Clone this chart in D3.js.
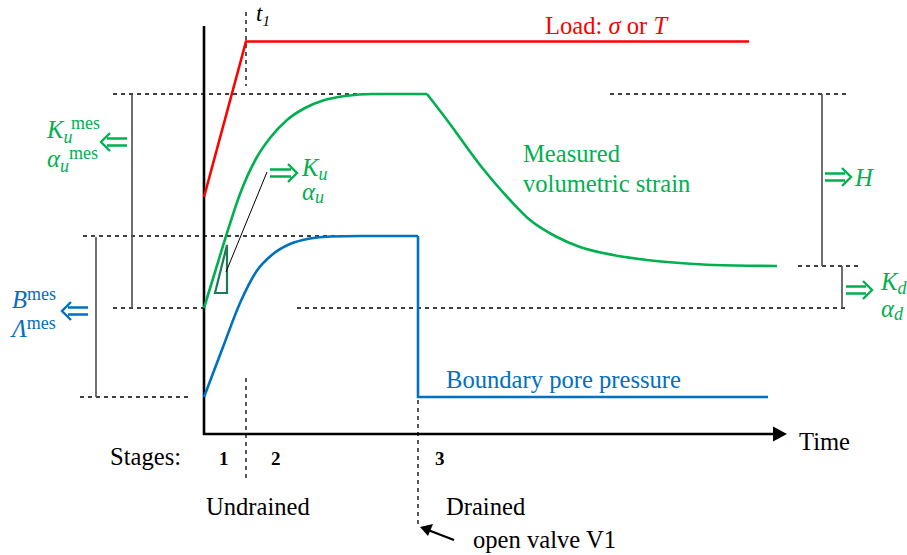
<!DOCTYPE html>
<html><head><meta charset="utf-8">
<script src="https://cdn.jsdelivr.net/npm/d3@7"></script>
<style>
html,body{margin:0;padding:0;background:#fff;}
svg{display:block;}
text{font-family:"Liberation Serif",serif;}
</style></head>
<body>
<svg id="c" width="907" height="555"></svg>
<script>
// ---- data (time units, value units) ----
const loadT = [0, 4.2, 54.5];
const loadV = [23.7, 39.25, 39.25];

const strainRiseT = [0, 1.1, 2.27, 3.6, 5.27, 6.6, 8.3, 10.1, 11.9, 14.1, 16.9, 22.3];
const strainRiseV = [12.6, 16.2, 20.0, 24.0, 27.65, 29.6, 31.4, 32.6, 33.35, 33.8, 34.0, 34.0];
const strainDecayT = [22.3, 24.3, 27.6, 30.6, 32.6, 35.1, 37.6, 40.9, 44.3, 47.6, 50.9, 57.3];
const strainDecayV = [34.0, 31.4, 26.9, 23.4, 21.4, 19.8, 18.7, 17.9, 17.4, 17.1, 16.9, 16.8];

const poreRiseT = [0, 1.9, 3.6, 5.27, 6.9, 8.6, 10.6, 12.6, 15.6, 21.4];
const poreRiseV = [3.7, 8.7, 13.1, 16.3, 18.0, 19.0, 19.55, 19.75, 19.8, 19.8];
const poreDropT = [21.4, 21.4, 56.4];
const poreDropV = [19.8, 3.7, 3.7];

const t1 = 4.2;          // end of loading ramp
const tValve = 21.4;     // valve V1 opened
const stageLabels = ["1", "2", "3"];
const stageT = [1.5, 6.7, 23.1];

// ---- scales ----
const svg = d3.select("#c");
const x = d3.scaleLinear().domain([0, 57]).range([204, 774]);
const y = d3.scaleLinear().domain([0, 40.8]).range([434, 26]);

const FONT = "'Liberation Serif', serif";
const RED = "#ff0000", GREEN = "#00b050", BLUE = "#0070c0", DG = "#1e7a5a";
const zip = (a, b) => a.map((d, i) => [d, b[i]]);
const lineM = d3.line().x(d => x(d[0])).y(d => y(d[1])).curve(d3.curveMonotoneX);
const lineL = d3.line().x(d => x(d[0])).y(d => y(d[1]));

// dashed reference levels
const vGreenTop = strainRiseV[strainRiseV.length - 1];
const vGreenStart = strainRiseV[0];
const vGreenEnd = strainDecayV[strainDecayV.length - 1];
const vBlueTop = poreRiseV[poreRiseV.length - 1];
const vBlueStart = poreRiseV[0];

const dash = (x1, y1, x2, y2) => svg.append("line").attr("x1", x1).attr("y1", y1).attr("x2", x2).attr("y2", y2)
  .attr("stroke", "#000").attr("stroke-width", 1.3).attr("stroke-dasharray", "4,4");
const solid = (x1, y1, x2, y2, c = "#555", w = 1.7) => svg.append("line").attr("x1", x1).attr("y1", y1).attr("x2", x2).attr("y2", y2)
  .attr("stroke", c).attr("stroke-width", w);

dash(113, y(vGreenTop), x(16.9), y(vGreenTop));
dash(610, y(vGreenTop), 848, y(vGreenTop));
dash(83, y(vBlueTop), x(15.3), y(vBlueTop));
dash(113, y(vGreenStart), 204, y(vGreenStart));
dash(297, y(vGreenStart), 848, y(vGreenStart));
dash(80, y(vBlueStart), 189, y(vBlueStart));
dash(798, y(vGreenEnd), 862, y(vGreenEnd));
dash(x(t1), 12, x(t1), 86);
dash(x(t1), 378, x(t1), 481);
dash(x(tValve), y(vBlueStart) + 3, x(tValve), 526);

// measurement bars
solid(132, y(vGreenTop) + 1, 132, y(vGreenStart));
solid(96, y(vBlueTop) + 1, 96, y(vBlueStart));
solid(822, y(vGreenTop), 822, y(vGreenEnd));
solid(842, y(vGreenEnd), 842, y(vGreenStart));

// axes
svg.append("path").attr("d", lineL([[0, 40.8], [0, 0], [56.9, 0]]))
  .attr("fill", "none").attr("stroke", "#000").attr("stroke-width", 2.6);
svg.append("path").attr("d", `M${x(56.9)},${y(0) - 7.5}L787,${y(0)}L${x(56.9)},${y(0) + 7.5}Z`).attr("fill", "#000");

// curves
svg.append("path").attr("d", lineL(zip(loadT, loadV))).attr("fill", "none").attr("stroke", RED).attr("stroke-width", 2.6);
svg.append("path").attr("d", lineM(zip(strainRiseT, strainRiseV))).attr("fill", "none").attr("stroke", GREEN).attr("stroke-width", 2.6);
svg.append("path").attr("d", lineM(zip(strainDecayT, strainDecayV))).attr("fill", "none").attr("stroke", GREEN).attr("stroke-width", 2.6);
svg.append("path").attr("d", lineM(zip(poreRiseT, poreRiseV))).attr("fill", "none").attr("stroke", BLUE).attr("stroke-width", 2.6);
svg.append("path").attr("d", lineL(zip(poreDropT, poreDropV))).attr("fill", "none").attr("stroke", BLUE).attr("stroke-width", 2.6);

// slope triangle + leader
svg.append("path").attr("d", "M215,293L227,293L227,245Z").attr("fill", "none").attr("stroke", DG).attr("stroke-width", 2.2);
solid(267, 172, 226, 272, "#000", 1);

// double arrows
function dArrow(x0, x1, yc, c, dir) {
  const g = svg.append("g").attr("stroke", c).attr("stroke-width", 2.4).attr("fill", "none");
  if (dir > 0) {
    g.append("path").attr("d", `M${x0},${yc - 3.5}L${x1 - 6},${yc - 3.5}M${x0},${yc + 3.5}L${x1 - 6},${yc + 3.5}M${x1 - 9},${yc - 9}L${x1},${yc}L${x1 - 9},${yc + 9}`);
  } else {
    g.append("path").attr("d", `M${x1},${yc - 3.5}L${x0 + 6},${yc - 3.5}M${x1},${yc + 3.5}L${x0 + 6},${yc + 3.5}M${x0 + 9},${yc - 9}L${x0},${yc}L${x0 + 9},${yc + 9}`);
  }
}
dArrow(101, 127, 142, GREEN, -1);
dArrow(62, 88, 311, BLUE, -1);
dArrow(270, 297, 173, GREEN, 1);
dArrow(825, 851, 177, GREEN, 1);
dArrow(846, 872, 290, GREEN, 1);

// valve arrow
svg.append("line").attr("x1", 454).attr("y1", 540).attr("x2", 428).attr("y2", 530).attr("stroke", "#000").attr("stroke-width", 2.4);
svg.append("path").attr("d", "M420,527L433,524L428,536Z").attr("fill", "#000");

// text helper
function txt(xp, yp, parts, color, size = 24.6) {
  const t = svg.append("text").attr("x", xp).attr("y", yp).attr("fill", color)
    .attr("font-size", size).attr("font-family", FONT);
  parts.forEach(p => {
    const s = t.append("tspan").text(p.t);
    if (p.i) s.attr("font-style", "italic");
    if (p.b) s.attr("font-weight", "bold");
    if (p.s) s.attr("font-size", p.s);
    if (p.dy !== undefined) s.attr("dy", p.dy);
    if (p.x !== undefined) s.attr("x", p.x);
  });
  return t;
}
txt(545, 34, [{t: "Load: "}, {t: "σ", i: 1}, {t: " or "}, {t: "T", i: 1}], RED);
txt(256, 21, [{t: "t", i: 1}, {t: "1", i: 1, s: 15, dy: 5}], "#000", 23);
txt(523, 162, [{t: "Measured"}], GREEN);
txt(523, 192, [{t: "volumetric strain"}], GREEN);
txt(446, 388, [{t: "Boundary pore pressure"}], BLUE);
txt(799, 450, [{t: "Time"}], "#000");
txt(110, 465, [{t: "Stages:"}], "#000");
stageLabels.forEach((s, i) => txt(x(stageT[i]), 465, [{t: s, b: 1}], "#000", 19));
txt(206, 515, [{t: "Undrained"}], "#000");
txt(446, 515, [{t: "Drained"}], "#000");
txt(473, 548, [{t: "open valve V1"}], "#000");

// left labels
txt(47, 138, [{t: "K", i: 1}, {t: "u", i: 1, s: 18, dy: 5}, {t: "mes", s: 18, x: 71, dy: -14}], GREEN);
txt(47, 167, [{t: "α", i: 1}, {t: "u", i: 1, s: 18, dy: 5}, {t: "mes", s: 18, x: 69, dy: -13}], GREEN);
txt(12, 308, [{t: "B", i: 1}, {t: "mes", s: 18, dy: -8}], BLUE);
txt(12, 337, [{t: "Λ", i: 1}, {t: "mes", s: 18, dy: -8}], BLUE);
// right labels
txt(302, 176, [{t: "K", i: 1}, {t: "u", i: 1, s: 18, dy: 4}], GREEN);
txt(302, 200, [{t: "α", i: 1}, {t: "u", i: 1, s: 18, dy: 3}], GREEN);
txt(855, 186, [{t: "H", i: 1}], GREEN);
txt(881, 290, [{t: "K", i: 1}, {t: "d", i: 1, s: 18, dy: 4}], GREEN);
txt(881, 317, [{t: "α", i: 1}, {t: "d", i: 1, s: 18, dy: 3}], GREEN);
</script>
</body></html>
